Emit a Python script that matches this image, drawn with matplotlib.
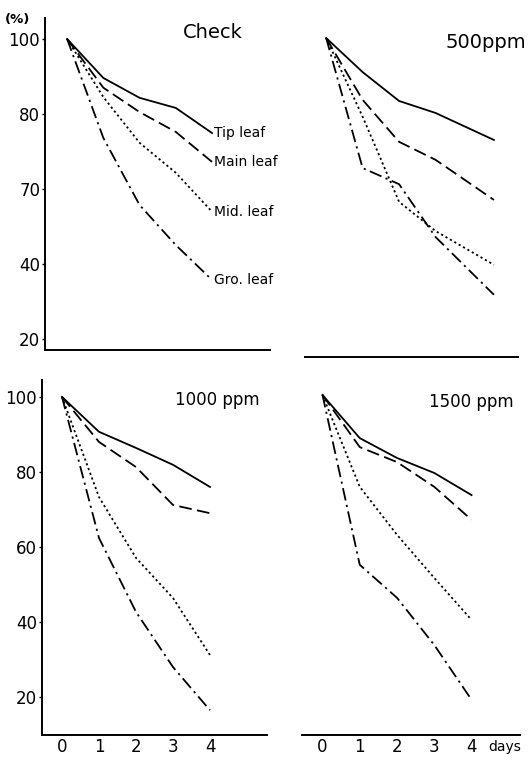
import matplotlib
matplotlib.use('Agg')
import matplotlib.pyplot as plt

# days after treatment
days = [0, 1, 2, 3, 4]
days_500 = [0, 1, 2, 3, 4.6]   # last point in the 500 ppm panel is drawn further right

# fresh weight remaining (%)
check_tip = [100, 89.6, 84.3, 81.6, 74.9]
check_main = [100, 87.0, 80.5, 75.2, 67.2]
check_mid = [100, 84.5, 72.3, 64.3, 53.9]
check_gro = [100, 73.6, 55.7, 45.0, 35.7]

ppm500_tip = [100, 90.9, 83.2, 80.0, 72.8]
ppm500_main = [100, 83.5, 72.3, 67.5, 56.8]
ppm500_mid = [100, 79.0, 56.3, 48.5, 39.5]
ppm500_gro = [100, 65.3, 61.0, 46.9, 31.5]

ppm1000_tip = [100, 90.7, 86.4, 81.9, 76.0]
ppm1000_main = [100, 88.0, 81.3, 71.2, 69.0]
ppm1000_mid = [100, 73.3, 57.1, 46.4, 31.2]
ppm1000_gro = [100, 62.4, 42.7, 28.0, 16.5]

ppm1500_tip = [100, 88.5, 83.2, 79.2, 73.3]
ppm1500_main = [100, 86.1, 82.1, 75.5, 66.7]
ppm1500_mid = [100, 75.5, 62.7, 51.2, 40.0]
ppm1500_gro = [100, 54.7, 45.9, 33.3, 18.7]

leaf_names = ['Tip leaf', 'Main leaf', 'Mid. leaf', 'Gro. leaf']
yticks = [100, 80, 60, 40, 20]
yticklabels_top = ['100', '80', '70', '40', '20']   # as printed
yticklabels_bot = ['100', '80', '60', '40', '20']
xticklabels = ['0', '1', '2', '3', '4']

styles = ['-', (0, (7, 3)), (0, (1.2, 1.6)), (0, (7, 2.5, 1.2, 2.5))]

W, H = 531, 764
fig = plt.figure(figsize=(W / 100, H / 100), dpi=100)
fig.patch.set_facecolor('white')


def px_axes(left, right, top, bottom):
    return fig.add_axes([left / W, (H - bottom) / H, (right - left) / W, (bottom - top) / H])


def draw(ax, x, series, xlim, ylim, title, tx, ty, tsize, left_axis):
    for y, ls in zip(series, styles):
        ax.plot(x, y, color='black', lw=1.3, linestyle=ls, dash_capstyle='butt')
    ax.set_xlim(*xlim)
    ax.set_ylim(*ylim)
    ax.spines['top'].set_visible(False)
    ax.spines['right'].set_visible(False)
    ax.spines['bottom'].set_linewidth(1.4)
    ax.spines['left'].set_linewidth(1.4)
    if not left_axis:
        ax.spines['left'].set_visible(False)
        ax.set_yticks([])
    ax.text(tx, ty, title, fontsize=tsize, ha='left', va='center')


# Check
ax1 = px_axes(45, 270, 18, 350)
draw(ax1, days, [check_tip, check_main, check_mid, check_gro],
     (-0.61, 5.6), (17.0, 105.6), 'Check', 3.2, 101.6, 14, True)
ax1.set_yticks(yticks)
ax1.set_yticklabels(yticklabels_top, fontsize=12)
ax1.set_xticks([])
for y, name in zip([check_tip, check_main, check_mid, check_gro], leaf_names):
    ax1.text(4.05, y[-1], name, fontsize=10, ha='left', va='center')
ax1.text(-1.71, 105.1, '(%)', fontsize=9.5, fontweight='bold', ha='left', va='center')

# 500 ppm
ax2 = px_axes(305, 518, 17, 357)
draw(ax2, days_500, [ppm500_tip, ppm500_main, ppm500_mid, ppm500_gro],
     (-0.58, 5.26), (14.9, 105.6), '500ppm', 3.26, 98.9, 14, False)
ax2.set_xticks([])

# 1000 ppm
ax3 = px_axes(42, 267, 380, 735)
draw(ax3, days, [ppm1000_tip, ppm1000_main, ppm1000_mid, ppm1000_gro],
     (-0.54, 5.54), (9.9, 104.5), '1000 ppm', 3.05, 99.2, 12, True)
ax3.set_yticks(yticks)
ax3.set_yticklabels(yticklabels_bot, fontsize=12)
ax3.set_xticks(days)
ax3.set_xticklabels(xticklabels, fontsize=12)

# 1500 ppm
ax4 = px_axes(302, 520, 380, 735)
draw(ax4, days, [ppm1500_tip, ppm1500_main, ppm1500_mid, ppm1500_gro],
     (-0.55, 5.3), (9.3, 104.0), '1500 ppm', 2.85, 98.2, 12, False)
ax4.set_xticks(days)
ax4.set_xticklabels(xticklabels, fontsize=12)
ax4.text(4.45, -0.015, 'days', fontsize=10, ha='left', va='top',
         transform=ax4.get_xaxis_transform())

for ax in (ax1, ax2, ax3, ax4):
    ax.tick_params(axis='y', direction='out', length=2.5, width=1, pad=1)
    ax.tick_params(axis='x', length=0, pad=2)

fig.savefig('out.png', dpi=100, facecolor='white')
